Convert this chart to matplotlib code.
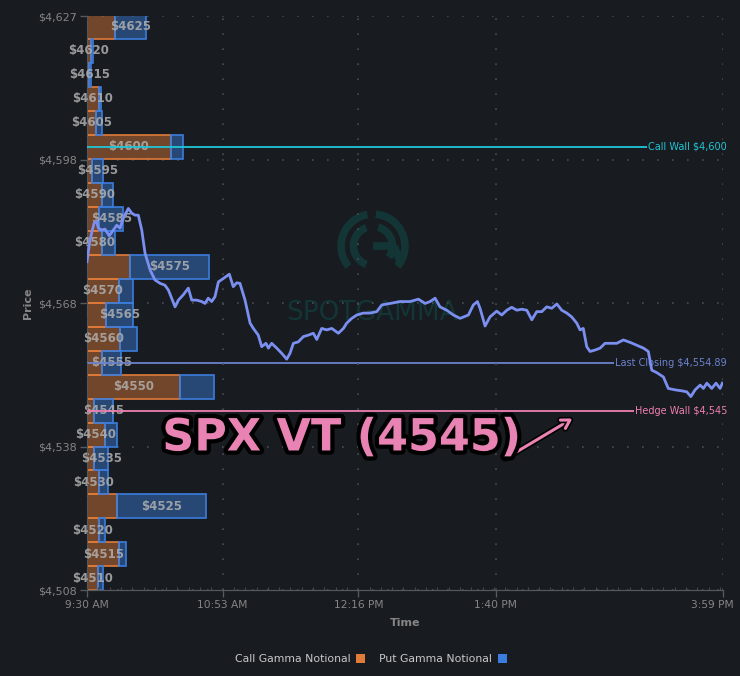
import matplotlib
matplotlib.use("Agg")
import matplotlib.pyplot as plt
import matplotlib.patheffects as pe
from matplotlib.patches import Patch, Arc
import numpy as np

# ---- data ----
strikes = [4625, 4620, 4615, 4610, 4605, 4600, 4595, 4590, 4585, 4580, 4575, 4570,
           4565, 4560, 4555, 4550, 4545, 4540, 4535, 4530, 4525, 4520, 4515, 4510]
call_gamma = [28, 4, 1.7, 12, 9.3, 84, 4.7, 14.7, 12.3, 15.3, 43.3, 32,
              19, 33, 14.7, 93, 6.7, 17.7, 7, 12.3, 30.3, 12, 32.3, 11.3]
put_gamma = [30.7, 2.3, 2.3, 1.7, 5.3, 12, 11, 11.6, 24, 13, 78.4, 14.3,
             26.7, 16.7, 19.3, 34, 19.6, 12.3, 14.3, 9, 88.7, 6.3, 7, 5]

# minutes after 9:30 open
minutes = [0, 1.8, 4.3, 5.9, 6.9, 9.0, 11.0, 13.6, 16.1, 18.2,
           20.2, 22.6, 25.3, 27.4, 29.4, 31.4, 33.5, 35.5, 38.6, 41.6,
           44.7, 47.7, 49.8, 53.9, 55.9, 58.9, 62.0, 64.1, 67.1, 70.2,
           72.2, 74.2, 76.3, 78.3, 80.4, 83.4, 87.1, 89.5, 91.6, 93.6,
           96.7, 99.8, 101.8, 104.8, 106.9, 109.5, 111.0, 113.0, 116.1, 119.2,
           122.2, 124.2, 126.3, 129.3, 132.4, 135.4, 138.5, 140.6, 143.6, 146.7,
           149.8, 153.8, 156.9, 158.9, 162.0, 165.1, 169.1, 173.2, 177.3, 180.4,
           185.4, 191.6, 197.7, 202.8, 206.9, 209.9, 213.0, 216.0, 220.1, 224.2,
           228.3, 233.4, 236.4, 238.9, 240.5, 243.6, 246.6, 250.7, 253.8, 256.9,
           259.9, 263.0, 266.0, 269.1, 272.2, 275.2, 278.3, 281.3, 284.4, 287.5,
           290.5, 293.6, 296.6, 299.7, 301.7, 303.7, 305.8, 307.8, 310.9, 314.0,
           317.0, 321.1, 324.2, 328.2, 332.3, 336.4, 340.5, 343.5, 345.6, 348.6,
           352.7, 355.7, 359.9, 363.9, 367.0, 369.5, 372.1, 375.2, 377.2, 379.3,
           382.3, 384.9, 387.4, 388.8]
price = [4576.0, 4580.5, 4584.0, 4584.5, 4583.0, 4582.6, 4582.8, 4581.4, 4582.6, 4583.6,
         4583.0, 4585.4, 4587.1, 4586.1, 4585.7, 4585.7, 4582.6, 4577.8, 4574.3, 4572.2,
         4571.5, 4571.1, 4570.1, 4566.6, 4568.0, 4569.1, 4570.5, 4568.0, 4568.0, 4567.7,
         4567.3, 4568.4, 4567.7, 4568.7, 4571.8, 4572.5, 4573.4, 4570.8, 4571.6, 4571.5,
         4568.0, 4563.2, 4562.1, 4560.7, 4558.3, 4559.0, 4558.0, 4559.0, 4558.0, 4556.9,
         4555.7, 4556.9, 4559.0, 4559.3, 4560.4, 4560.7, 4561.1, 4559.8, 4562.1, 4561.8,
         4562.1, 4561.1, 4562.1, 4563.2, 4564.2, 4564.9, 4565.3, 4565.3, 4565.6, 4567.0,
         4567.3, 4567.7, 4567.7, 4568.2, 4567.3, 4567.7, 4568.4, 4566.6, 4565.9, 4564.9,
         4564.2, 4564.9, 4567.0, 4567.7, 4566.3, 4562.6, 4564.5, 4565.7, 4564.9, 4565.9,
         4566.5, 4565.9, 4566.1, 4565.9, 4563.9, 4565.6, 4565.6, 4566.6, 4566.3, 4567.2,
         4565.9, 4565.3, 4564.5, 4563.2, 4561.8, 4562.1, 4558.3, 4557.3, 4557.6, 4558.0,
         4559.0, 4559.0, 4559.0, 4559.7, 4559.2, 4558.6, 4558.0, 4557.3, 4553.4, 4552.9,
         4552.0, 4549.6, 4549.3, 4549.1, 4548.9, 4547.9, 4549.3, 4550.3, 4549.6, 4550.7,
         4549.6, 4550.7, 4549.6, 4550.7]

time_ticks = [0, 83, 166, 250, 389]
time_labels = ["9:30 AM", "10:53 AM", "12:16 PM", "1:40 PM", "3:59 PM"]
price_labels = ["$4,508", "$4,538", "$4,568", "$4,598", "$4,627"]

call_wall = 4600
last_close = 4554.89
hedge_wall = 4545

# ---- style ----
BG = '#181b20'
GRID = '#4a4d52'
TICK = '#858585'
ORANGE = '#e07b39'
BLUE = '#3b7ddd'
LINE = '#7b8ff0'

fig = plt.figure(figsize=(7.4, 6.76), dpi=100, facecolor=BG)
ax = fig.add_axes([87 / 740, 1 - 590 / 676, (722.7 - 87) / 740, 574 / 676])
ax.set_facecolor('none')
ax_t = ax.twiny()

ylo, yhi = 4507.6, 4627.2
ax.set_ylim(ylo, yhi)
ax.set_xlim(0, 635.7)
ax_t.set_xlim(0, 389)

# gamma bars
ax.barh(strikes, call_gamma, height=5, left=0, color=ORANGE, alpha=0.45,
        edgecolor='none', zorder=2)
ax.barh(strikes, call_gamma, height=5, left=0, color='none',
        edgecolor=ORANGE, linewidth=1.2, zorder=2)
ax.barh(strikes, put_gamma, height=5, left=call_gamma, color=BLUE, alpha=0.45,
        edgecolor='none', zorder=2)
ax.barh(strikes, put_gamma, height=5, left=call_gamma, color='none',
        edgecolor=BLUE, linewidth=1.2, zorder=2)

for s, c, p in zip(strikes, call_gamma, put_gamma):
    xc = c + p / 2 if p > c else c / 2
    ax.text(xc, s, f"${s}", ha='center', va='center', fontsize=8.5,
            fontweight='bold', color='#b0b0b0', alpha=0.85, zorder=3)

# grid
yt = np.linspace(ylo, yhi, 5)
ax.set_yticks(yt)
ax.set_yticklabels(price_labels)
ax.grid(axis='y', color=GRID, linestyle=(0, (1, 8)), linewidth=1.2, zorder=0)
ax.set_xticks([])
ax_t.set_xticks(time_ticks)
ax_t.set_xticklabels(time_labels[:-1] + [""])
ax_t.set_xticks(np.arange(0, 389, 83 / 12), minor=True)
ax_t.xaxis.set_ticks_position('bottom')
ax_t.xaxis.set_label_position('bottom')
ax_t.grid(axis='x', color=GRID, linestyle=(0, (1, 8)), linewidth=1.2)

for a in (ax, ax_t):
    for side in ('top', 'right'):
        a.spines[side].set_visible(False)
    a.spines['left'].set_color('#55585d')
    a.spines['bottom'].set_color('#55585d')
ax_t.spines['left'].set_visible(False)

ax.tick_params(axis='y', colors='#55585d', labelcolor=TICK, labelsize=8,
               length=5, width=1, pad=2)
ax_t.tick_params(axis='x', which='major', colors='#55585d', labelcolor=TICK,
                 labelsize=7.7, length=5, width=1, pad=2)
ax_t.tick_params(axis='x', which='minor', colors='#44474c', direction='in',
                 length=2, width=0.8)
# last time label is pulled inside the canvas, as in the source chart
ax_t.annotate(time_labels[-1], xy=(1, 0), xycoords='axes fraction',
              xytext=(7.6, -7), textcoords='offset points', ha='right', va='top',
              fontsize=7.7, color=TICK, annotation_clip=False)

ax.set_ylabel("Price", color=TICK, fontsize=8, fontweight='bold', labelpad=4)
ax_t.set_xlabel("Time", color=TICK, fontsize=8, fontweight='bold', labelpad=6)

# walls and labels
tx = (727 - 87) / 635.7
walls = [(call_wall, '#1fc6d6', "Call Wall $4,600"),
         (last_close, '#6c82cc', "Last Closing $4,554.89"),
         (hedge_wall, '#ee7fb2', "Hedge Wall $4,545")]
for yv, col, lab in walls:
    ax.axhline(yv, color=col, linewidth=1.3, zorder=4)
    ax.text(tx, yv, lab, transform=ax.get_yaxis_transform(), ha='right',
            va='center', fontsize=7, color=col, zorder=5, clip_on=False,
            bbox=dict(boxstyle='square,pad=0.1', facecolor=BG, edgecolor='none'))

# price line
ax_t.plot(minutes, price, color=LINE, linewidth=2, zorder=6, solid_joinstyle='round')

# watermark
WM = '#133536'
fig.text(372 / 740, 1 - 313 / 676, "SPOTGAMMA", ha='center', va='center',
         fontsize=19, color=WM, zorder=-1)
lax = fig.add_axes([334 / 740, 1 - 285 / 676, 78 / 740, 78 / 676], zorder=-1)
lax.set_xlim(-1.1, 1.1)
lax.set_ylim(-1.1, 1.1)
lax.axis('off')
for r, t1, t2 in [(0.9, -40, 85), (0.9, 100, 220), (0.55, 110, 250), (0.55, -35, 75)]:
    lax.add_patch(Arc((0, 0), 2 * r, 2 * r, theta1=t1, theta2=t2, color=WM, lw=5.5))
lax.plot([0.0, 0.6], [0, 0], color=WM, lw=5.5, solid_capstyle='butt')
lax.plot([0.6, 0.78], [0, -0.5], color=WM, lw=5.5, solid_capstyle='butt')

# legend
handles = [Patch(facecolor=ORANGE, label="Call Gamma Notional"),
           Patch(facecolor=BLUE, label="Put Gamma Notional")]
fig.legend(handles=handles, loc='center', bbox_to_anchor=(371 / 740, 1 - 659 / 676),
           ncol=2, frameon=False, markerfirst=False, fontsize=7.8,
           labelcolor='#c8c8c8', handlelength=0.9, handleheight=0.9,
           handletextpad=0.5, columnspacing=1.3)

# annotation
stroke = [pe.withStroke(linewidth=6, foreground='black')]
fig.text(342 / 740, 1 - 438 / 676, "SPX VT (4545)", ha='center', va='center',
         fontsize=32, fontweight='bold', color='#e983b4', path_effects=stroke,
         zorder=10)
ax_t.annotate("", xy=(575 / 740, 1 - 417 / 676), xytext=(503 / 740, 1 - 460 / 676),
              xycoords='figure fraction', textcoords='figure fraction',
              arrowprops=dict(arrowstyle='->,head_length=0.6,head_width=0.35',
                              color='#e983b4', lw=2.2,
                              path_effects=[pe.withStroke(linewidth=4.5, foreground='black')]),
              zorder=10, annotation_clip=False)

fig.savefig("out.png", dpi=100, facecolor=BG)
